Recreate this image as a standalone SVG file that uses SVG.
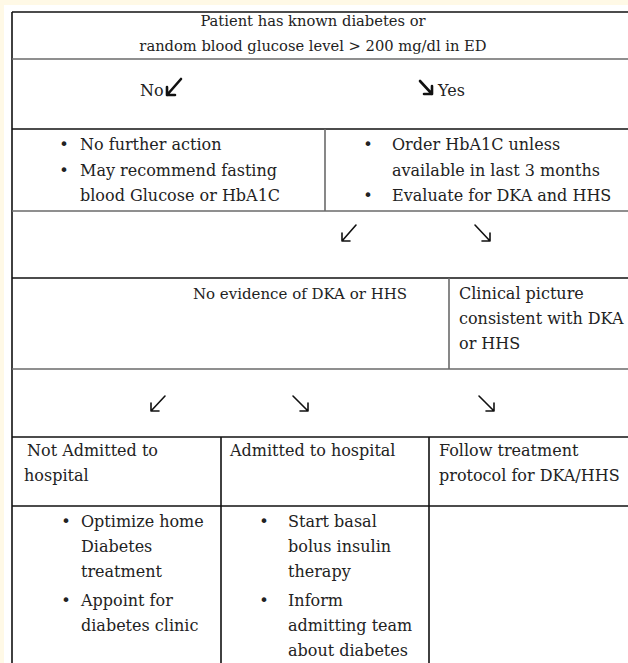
<svg xmlns="http://www.w3.org/2000/svg" width="628" height="663" viewBox="0 0 628 663">
<style>
text{font-family:"DejaVu Serif","Liberation Serif",serif;font-size:16px;fill:#222}
.h{font-size:14.7px}
.m{font-size:15px}
.c{text-anchor:middle}
.b{font-family:"DejaVu Sans",sans-serif;font-size:16px;text-anchor:middle}
.g{stroke:#6a6a6a;stroke-width:1.6;fill:none}
.k{stroke:#111;stroke-width:1.6;fill:none}
.a{stroke:#111;stroke-width:1.6;fill:none;stroke-linecap:round;stroke-linejoin:round}
.ab{stroke:#111;stroke-width:2.6;fill:none;stroke-linecap:round;stroke-linejoin:round}
</style>
<rect x="0" y="0" width="628" height="663" fill="#fff9e6"/>
<rect x="4" y="5" width="624" height="658" fill="#ffffff"/>
<g id="grid">
<line class="k" x1="12" y1="12" x2="628" y2="12"/>
<line class="k" x1="12" y1="12" x2="12" y2="663"/>
<line class="g" x1="12" y1="59" x2="628" y2="59"/>
<line class="k" x1="12" y1="129" x2="628" y2="129"/>
<line class="g" x1="325" y1="129" x2="325" y2="211"/>
<line class="g" x1="12" y1="211" x2="628" y2="211"/>
<line class="k" x1="12" y1="278" x2="628" y2="278"/>
<line class="g" x1="449" y1="278" x2="449" y2="369"/>
<line class="g" x1="12" y1="369" x2="628" y2="369"/>
<line class="k" x1="12" y1="437" x2="628" y2="437"/>
<line class="k" x1="221" y1="437" x2="221" y2="663"/>
<line class="k" x1="429" y1="437" x2="429" y2="663"/>
<line class="k" x1="12" y1="506" x2="628" y2="506"/>
</g>
<g id="n-start">
<text class="c h" x="313" y="26">Patient has known diabetes or</text>
<text class="c h" x="313" y="51">random blood glucose level &gt; 200 mg/dl in ED</text>
</g>
<g id="n-no-label"><text x="140" y="96">No</text></g>
<g id="n-yes-label"><text x="438" y="96">Yes</text></g>
<g id="n-no">
<text class="b" x="64" y="150">•</text><text x="80" y="150">No further action</text>
<text class="b" x="64" y="176">•</text><text x="80" y="176">May recommend fasting</text>
<text x="80" y="201">blood Glucose or HbA1C</text>
</g>
<g id="n-yes">
<text class="b" x="368" y="150">•</text><text x="392" y="150">Order HbA1C unless</text>
<text x="392" y="176">available in last 3 months</text>
<text class="b" x="368" y="201">•</text><text x="392" y="201">Evaluate for DKA and HHS</text>
</g>
<g id="n-nodka">
<text class="c m" x="300" y="299">No evidence of DKA or HHS</text>
</g>
<g id="n-dka">
<text x="459" y="299">Clinical picture</text>
<text x="459" y="324">consistent with DKA</text>
<text x="459" y="349">or HHS</text>
</g>
<g id="n-notadm">
<text x="27" y="456">Not Admitted to</text>
<text x="24" y="481">hospital</text>
</g>
<g id="n-adm">
<text x="230" y="456">Admitted to hospital</text>
</g>
<g id="n-protocol">
<text x="439" y="456">Follow treatment</text>
<text x="439" y="481">protocol for DKA/HHS</text>
</g>
<g id="n-notadm-actions">
<text class="b" x="66" y="527">•</text><text x="81" y="527">Optimize home</text>
<text x="81" y="552">Diabetes</text>
<text x="81" y="577">treatment</text>
<text class="b" x="66" y="606">•</text><text x="81" y="606">Appoint for</text>
<text x="81" y="631">diabetes clinic</text>
</g>
<g id="n-adm-actions">
<text class="b" x="264" y="527">•</text><text x="288" y="527">Start basal</text>
<text x="288" y="552">bolus insulin</text>
<text x="288" y="577">therapy</text>
<text class="b" x="264" y="606">•</text><text x="288" y="606">Inform</text>
<text x="288" y="631">admitting team</text>
<text x="288" y="656">about diabetes</text>
</g>
<g id="connectors">
<path class="ab" d="M181 79 L167 95 M167 87 L167 95 L175 95"/>
<path class="ab" d="M420 81 L432 94 M432 86 L432 94 L424 94"/>
<path class="a" d="M356 225 L342 241 M342 233 L342 241 L350 241"/>
<path class="a" d="M475 225 L490 241 M490 233 L490 241 L482 241"/>
<path class="a" d="M165 396 L151 411 M151 403 L151 411 L159 411"/>
<path class="a" d="M293 396 L308 411 M308 403 L308 411 L300 411"/>
<path class="a" d="M479 396 L494 411 M494 403 L494 411 L486 411"/>
</g>
</svg>
